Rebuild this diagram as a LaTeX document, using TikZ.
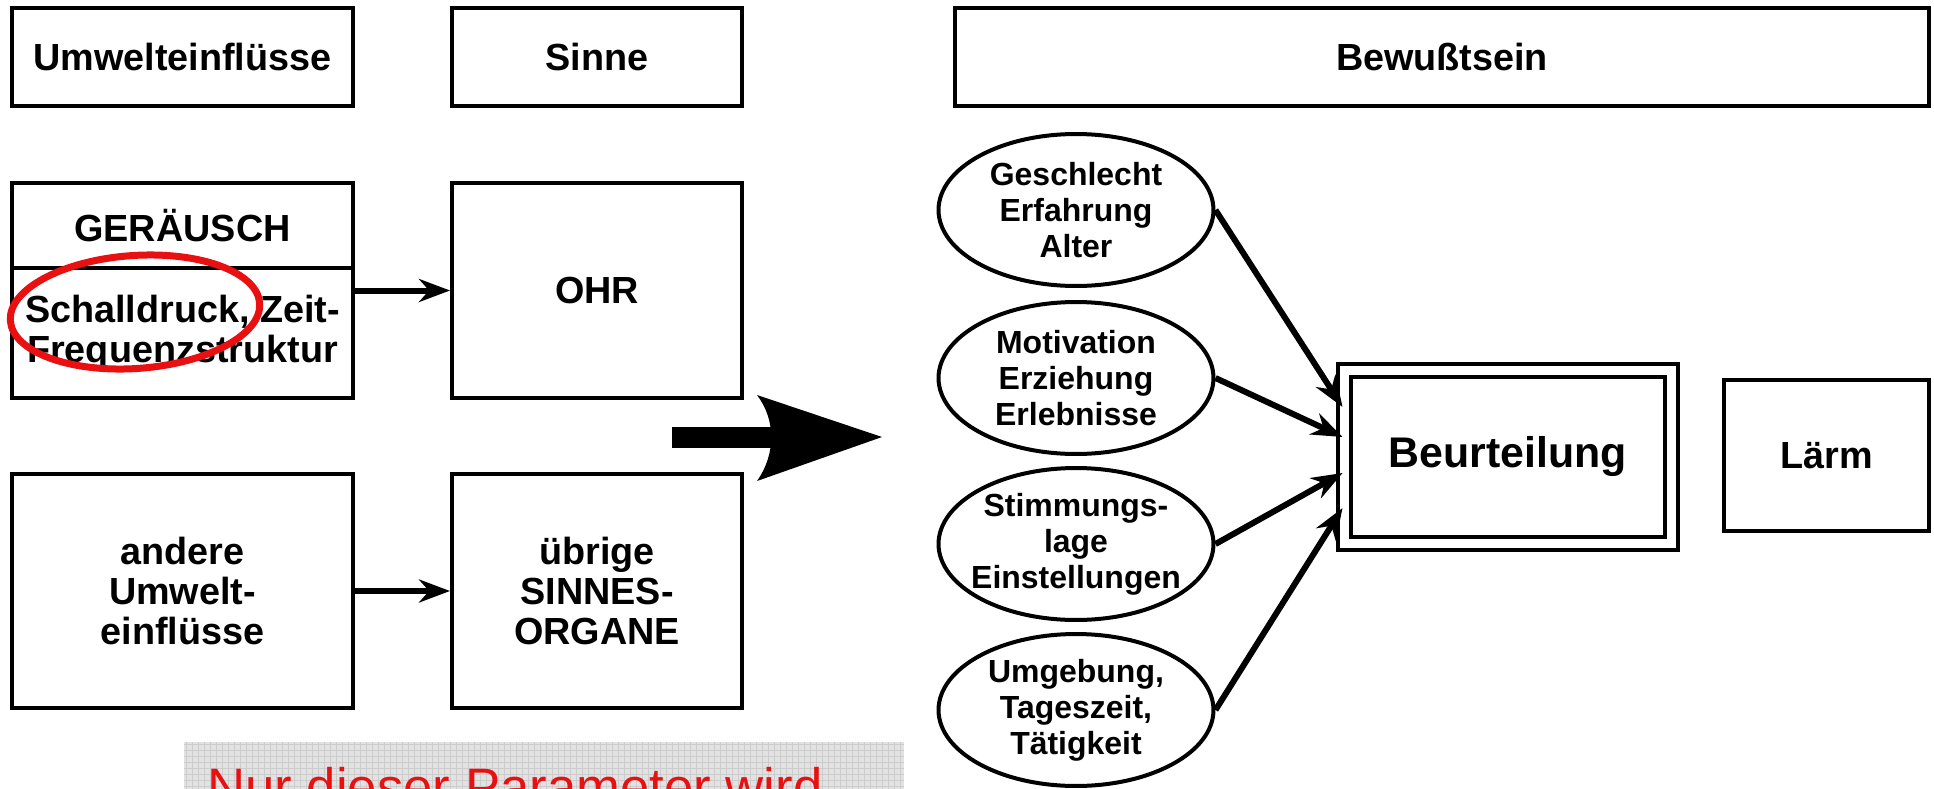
\documentclass[tikz,border=0pt]{standalone}
\usepackage{fontspec}
\setmainfont{Liberation Sans}
\usetikzlibrary{positioning,shapes.geometric,arrows.meta,calc}
\definecolor{markred}{RGB}{232,16,16}
\definecolor{panelgrey}{RGB}{226,226,226}
\definecolor{gridgrey}{RGB}{204,204,204}
\tikzset{
    % Kasten
    box/.style={
        draw=black,
        line width=0.08cm,
        rectangle,
        inner sep=0pt,
        align=center,
        font=\bfseries\fontsize{21.5}{22.7}\selectfont,
    },
    % Einflussgroesse
    factor/.style={
        draw=black,
        line width=0.08cm,
        ellipse,
        minimum width=5.5cm,
        minimum height=3.04cm,
        inner sep=0pt,
    },
    factortext/.style={
        align=center,
        inner sep=0pt,
        font=\bfseries\fontsize{18.2}{20.6}\selectfont,
    },
    % Verbindung
    conn/.style={
        line width=0.12cm,
        -{Stealth[length=0.62cm,width=0.46cm]},
    },
}

\begin{document}
\begin{tikzpicture}[x=0.02cm,y=-0.02cm]
    \useasboundingbox (0,0) rectangle (1934,788);
    \clip (0,0) rectangle (1934,788);
%HEADER_BEGIN%
    \node[box,minimum width=6.82cm,minimum height=1.96cm] (umw) at (182.5,57) {Umwelteinflüsse};
    \node[box,minimum width=5.8cm,minimum height=1.96cm] (sinne) at (597,57) {Sinne};
    \node[box,minimum width=19.48cm,minimum height=1.96cm] (bew) at (1442,57) {Bewußtsein};
%HEADER_END%

%LEFT_BEGIN%
    \node[box,minimum width=6.82cm,minimum height=1.7cm] (geraeusch) at (182.5,225.5) {GERÄUSCH};
    \node[box,minimum width=6.82cm,minimum height=2.6cm] (schall) at (182.5,333) {Schalldruck, Zeit-\\Frequenzstruktur};
    \node[box,minimum width=5.8cm,minimum height=4.3cm] (ohr) at (597,290.5) {OHR};
    \node[box,minimum width=6.82cm,minimum height=4.68cm] (andere) at (182.5,591) {andere\\Umwelt-\\einflüsse};
    \node[box,minimum width=5.8cm,minimum height=4.68cm] (uebrige) at (597,591) {übrige\\SINNES-\\ORGANE};
    \draw[conn] (schall.east |- ohr.west) -- (ohr.west);
    \draw[conn] (andere.east) -- (uebrige.west);
    % markierter Parameter
    \node[draw=markred,line width=0.14cm,ellipse,rotate=4,minimum width=5cm,minimum height=2.26cm] (mark) at (135,312) {};
%LEFT_END%

    % Uebergang
    \fill (672,427) rectangle (772,448);
    \fill (882,437) -- (757,395) .. controls (776,420) and (776,454) .. (757,481) -- cycle;

%RIGHT_BEGIN%
    \node[factor] (e1) at (1076,210) {};
    \node[factortext] at (e1) {Geschlecht\\Erfahrung\\Alter};
    \node[factor] (e2) at (1076,378) {};
    \node[factortext] at (e2) {Motivation\\Erziehung\\Erlebnisse};
    \node[factor] (e3) at (1076,544) {};
    \node[factortext] at (e3) {Stimmungs-\\lage\\Einstellungen};
    \node[factor] (e4) at (1076,710) {};
    \node[factortext] at (e4) {Umgebung,\\Tageszeit,\\Tätigkeit};

    \node[box,double,double distance=0.18cm,minimum width=6.54cm,minimum height=3.47cm,
        font=\bfseries\fontsize{24.4}{28}\selectfont] (beurt) at (1508,457) {Beurteilung};
    \node[box,minimum width=4.1cm,minimum height=3.02cm] (laerm) at (1826.5,455.5) {Lärm};

    \draw[conn] (e1.east) -- ($(beurt.west)+(0,-50)$);
    \draw[conn] (e2.east) -- ($(beurt.west)+(0,-20)$);
    \draw[conn] (e3.east) -- ($(beurt.west)+(0,16)$);
    \draw[conn] (e4.east) -- ($(beurt.west)+(0,51)$);
%RIGHT_END%

    % Hinweis
    \fill[panelgrey] (184,742) rectangle (904,800);
    \draw[gridgrey,line width=0.2pt,step=0.12cm] (184,742) grid (904,800);
    \node[anchor=base west,inner sep=0pt,text=markred,font=\fontsize{30}{36}\selectfont] (hint) at (207,805) {Nur dieser Parameter wird};
\end{tikzpicture}
\end{document}
